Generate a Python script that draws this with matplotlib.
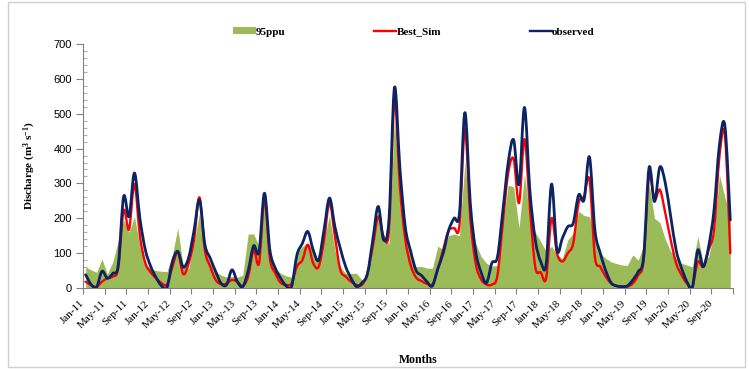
import matplotlib
matplotlib.use("Agg")
import matplotlib.pyplot as plt
from matplotlib.patches import Rectangle, PathPatch
from matplotlib.path import Path
from matplotlib.lines import Line2D
from matplotlib.ticker import MultipleLocator, FixedLocator
import numpy as np

plt.rcParams['mathtext.fontset'] = 'custom'
plt.rcParams['mathtext.rm'] = 'Liberation Serif:bold'
plt.rcParams['mathtext.it'] = 'Liberation Serif:bold'
plt.rcParams['mathtext.bf'] = 'Liberation Serif:bold'

years = list(range(11, 21))
months = ["Jan", "Feb", "Mar", "Apr", "May", "Jun", "Jul", "Aug", "Sep", "Oct", "Nov", "Dec"]
month_labels = [f"{m}-{y}" for y in years for m in months]

ppu95 = [60, 52, 45, 83, 40, 75, 135, 195, 160, 205, 120, 70,
         55, 50, 48, 47, 95, 172, 62, 55, 130, 215, 109, 71,
         47, 37, 31, 33, 31, 37, 155, 155, 120, 248, 109, 57,
         42, 35, 31, 100, 119, 128, 110, 75, 140, 208, 110, 61,
         42, 42, 42, 23, 37, 148, 215, 138, 128, 490, 234, 150,
         100, 61, 62, 57, 57, 120, 110, 150, 155, 150, 360, 200,
         128, 90, 71, 62, 65, 186, 295, 290, 172, 326, 200, 160,
         133, 105, 120, 95, 85, 138, 157, 220, 208, 205, 148, 100,
         85, 75, 70, 66, 65, 95, 80, 122, 300, 200, 188, 140,
         105, 85, 71, 66, 61, 148, 71, 90, 157, 325, 260, 212]

best_sim = [18, 8, 4, 18, 28, 33, 57, 222, 168, 298, 150, 72,
            45, 28, 14, 10, 60, 103, 40, 70, 138, 260, 109, 61,
            23, 11, 13, 23, 18, 6, 33, 109, 71, 253, 85, 42,
            15, 9, 13, 62, 80, 124, 71, 61, 138, 244, 148, 52,
            33, 18, 9, 9, 42, 119, 205, 148, 167, 540, 290, 140,
            65, 30, 20, 12, 10, 55, 110, 165, 172, 180, 455, 200,
            70, 25, 10, 10, 35, 186, 330, 370, 244, 427, 230, 60,
            45, 28, 200, 100, 76, 100, 128, 244, 263, 311, 90, 61,
            33, 13, 6, 4, 4, 13, 37, 80, 320, 253, 282, 215,
            138, 71, 37, 13, 4, 75, 61, 109, 167, 378, 440, 100]

observed = [38, 10, 2, 48, 28, 42, 65, 262, 205, 330, 200, 110,
            62, 30, 6, 1, 75, 105, 60, 87, 165, 253, 125, 85,
            47, 13, 9, 52, 18, 4, 50, 121, 104, 272, 109, 57,
            28, 6, 4, 95, 128, 162, 109, 80, 167, 258, 176, 114,
            61, 28, 4, 15, 40, 138, 234, 138, 200, 575, 345, 175,
            105, 50, 36, 18, 6, 55, 100, 165, 200, 215, 503, 244,
            105, 45, 15, 72, 88, 220, 360, 425, 297, 518, 280, 138,
            76, 68, 298, 109, 143, 176, 186, 267, 253, 376, 167, 100,
            50, 15, 6, 4, 6, 23, 47, 90, 345, 248, 347, 301,
            205, 109, 57, 18, 2, 109, 61, 119, 224, 411, 466, 195]


def smooth_path(xs, ys):
    """Excel-style smoothed line: cubic Bezier (Catmull-Rom) through every data point."""
    p = np.column_stack([xs, ys]).astype(float)
    n = len(p)
    verts = [p[0]]
    codes = [Path.MOVETO]
    for i in range(n - 1):
        p0 = p[i - 1] if i > 0 else p[i]
        p1 = p[i]
        p2 = p[i + 1]
        p3 = p[i + 2] if i + 2 < n else p[i + 1]
        c1 = p1 + (p2 - p0) / 6.0
        c2 = p2 - (p3 - p1) / 6.0
        verts += [c1, c2, p2]
        codes += [Path.CURVE4] * 3
    return Path(verts, codes)


W, H = 749, 369
fig = plt.figure(figsize=(W / 100, H / 100), dpi=100)
ax = fig.add_axes([83 / W, 1 - 288 / H, 650 / W, 244 / H])

x = np.arange(len(observed))
green = "#9BBB59"
red = "#FF0000"
navy = "#0B2463"

ax.fill_between(x, 0, ppu95, color=green, linewidth=0, zorder=1)
ax.add_patch(PathPatch(smooth_path(x, best_sim), fill=False, edgecolor=red, lw=1.7,
                       joinstyle="round", capstyle="round", zorder=2))
ax.add_patch(PathPatch(smooth_path(x, observed), fill=False, edgecolor=navy, lw=2.0,
                       joinstyle="round", capstyle="round", zorder=3))

ax.set_xlim(-0.5, len(observed) - 0.5)
ax.set_ylim(0, 700)

# y axis
ax.yaxis.set_major_locator(MultipleLocator(100))
ax.yaxis.set_minor_locator(MultipleLocator(20))
ax.tick_params(axis="y", which="major", direction="out", length=5, width=0.8,
               color="#808080", labelsize=8, pad=3)
ax.tick_params(axis="y", which="minor", direction="in", length=3, width=0.6, color="#A0A0A0")
for t in ax.get_yticklabels():
    t.set_fontfamily("Liberation Sans")

# x axis
tick_pos = [-0.5 + 4 * k for k in range(len(observed) // 4 + 1)]
tick_lbl = [month_labels[4 * k] if 4 * k < len(month_labels) else "" for k in range(len(tick_pos))]
ax.xaxis.set_major_locator(FixedLocator(tick_pos))
ax.set_xticklabels(tick_lbl, rotation=45, ha="right", va="center", rotation_mode="anchor",
                   fontfamily="Liberation Serif", fontsize=8)
ax.tick_params(axis="x", which="major", direction="out", length=4, width=0.8,
               color="#808080", pad=6)

for s in ["top", "right"]:
    ax.spines[s].set_visible(False)
for s in ["left", "bottom"]:
    ax.spines[s].set_color("#808080")
    ax.spines[s].set_linewidth(0.8)

ax.set_ylabel("Discharge (m$^{3}$ s$^{-1}$)", fontfamily="Liberation Serif",
              fontweight="bold", fontsize=8)
ax.yaxis.set_label_coords((38 - 83) / 650, 0.5)
ax.set_xlabel("Months", fontfamily="Liberation Serif", fontweight="bold", fontsize=8.5)
ax.xaxis.set_label_coords((418 - 83) / 650, (288 - 354) / 244)

handles = [
    Rectangle((0, 0), 1, 1, facecolor=green, edgecolor="none"),
    Line2D([], [], color=red, lw=1.7),
    Line2D([], [], color=navy, lw=1.7),
]
fig.legend(handles, ["95ppu", "Best_Sim", "observed"], loc="center",
           bbox_to_anchor=(414 / W, 1 - 32 / H), ncol=3, frameon=False,
           handlelength=2.0, handleheight=0.5, handletextpad=0.0, columnspacing=8.0,
           prop={"family": "Liberation Serif", "weight": "bold", "size": 8})

fig.add_artist(Rectangle((8 / W, 2 / H), (745 - 8) / W, (367 - 2) / H, transform=fig.transFigure,
                         fill=False, edgecolor="#D0D0D0", linewidth=1.0))

fig.savefig("out.png", dpi=100)
